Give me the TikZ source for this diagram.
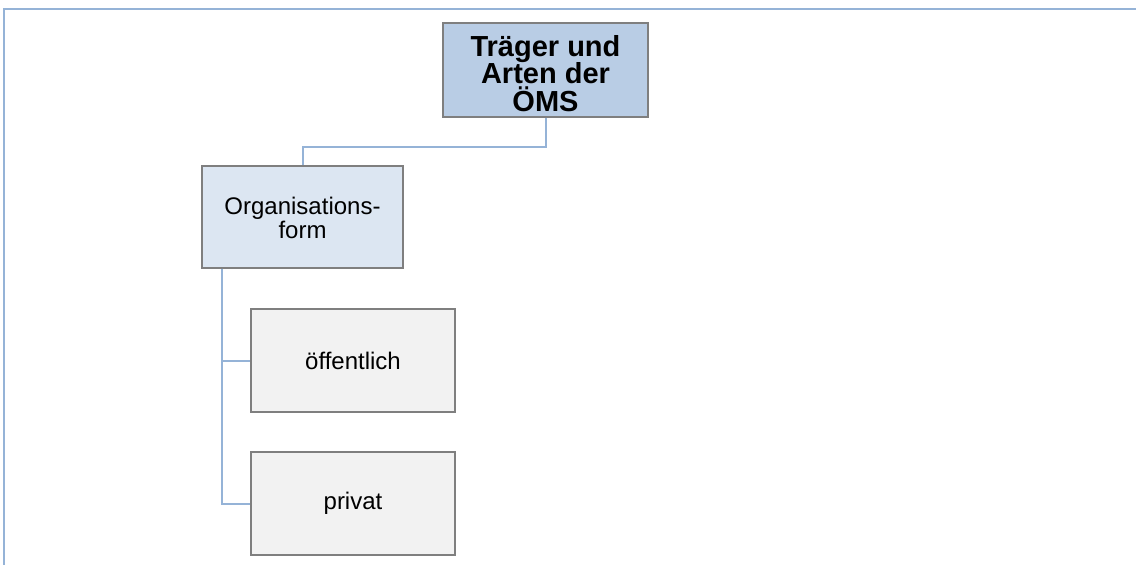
\documentclass[tikz,border=0pt]{standalone}
\usepackage{fontspec}
\setmainfont{Liberation Sans}
\definecolor{titlefill}{HTML}{B9CDE5}
\definecolor{orgfill}{HTML}{DCE6F2}
\definecolor{leaffill}{HTML}{F2F2F2}
\definecolor{boxline}{HTML}{7F7F7F}
\definecolor{linkline}{HTML}{95B3D7}
% centred text block, pushed down by half of the extra top space
\newcommand{\boxtext}[2]{\parbox{190pt}{\vspace*{#1}\centering #2}}
\tikzset{
  chartbox/.style={draw=boxline, line width=1.4pt, inner sep=0pt, align=center},
  titlebox/.style={chartbox, fill=titlefill, minimum width=205pt, minimum height=94pt,
    font=\fontsize{29}{27.5}\selectfont\bfseries},
  orgbox/.style={chartbox, fill=orgfill, minimum width=201pt, minimum height=102pt,
    font=\fontsize{24}{23.5}\selectfont},
  leafbox/.style={chartbox, fill=leaffill, minimum width=204pt, minimum height=103pt,
    font=\fontsize{24}{24}\selectfont},
  link/.style={draw=linkline, line width=2pt},
  frameline/.style={draw=linkline, line width=2.5pt}
}
\begin{document}
\begin{tikzpicture}[x=1pt, y=-1pt]
  \useasboundingbox (0,0) rectangle (1136,565);
  % outer frame (top and left edges)
  \draw[frameline] (1136,9) -- (4,9) -- (4,565);
  % boxes
  \node[titlebox] (top) at (545.5,70) {\boxtext{7pt}{Träger und\\Arten der\\ÖMS}};
  \node[orgbox] (org) at (302.5,217) {\boxtext{2pt}{Organisations-\\form}};
  \node[leafbox] (pub) at (353,360.5) {öffentlich};
  \node[leafbox] (priv) at (353,503.5) {privat};
  % connectors
  \draw[link] (top.south) -- ++(0,29) -| (org.north);
  \draw[link] ([xshift=21pt]org.south west) |- (pub.west);
  \draw[link] ([xshift=21pt]org.south west) |- (priv.west);
\end{tikzpicture}
\end{document}
